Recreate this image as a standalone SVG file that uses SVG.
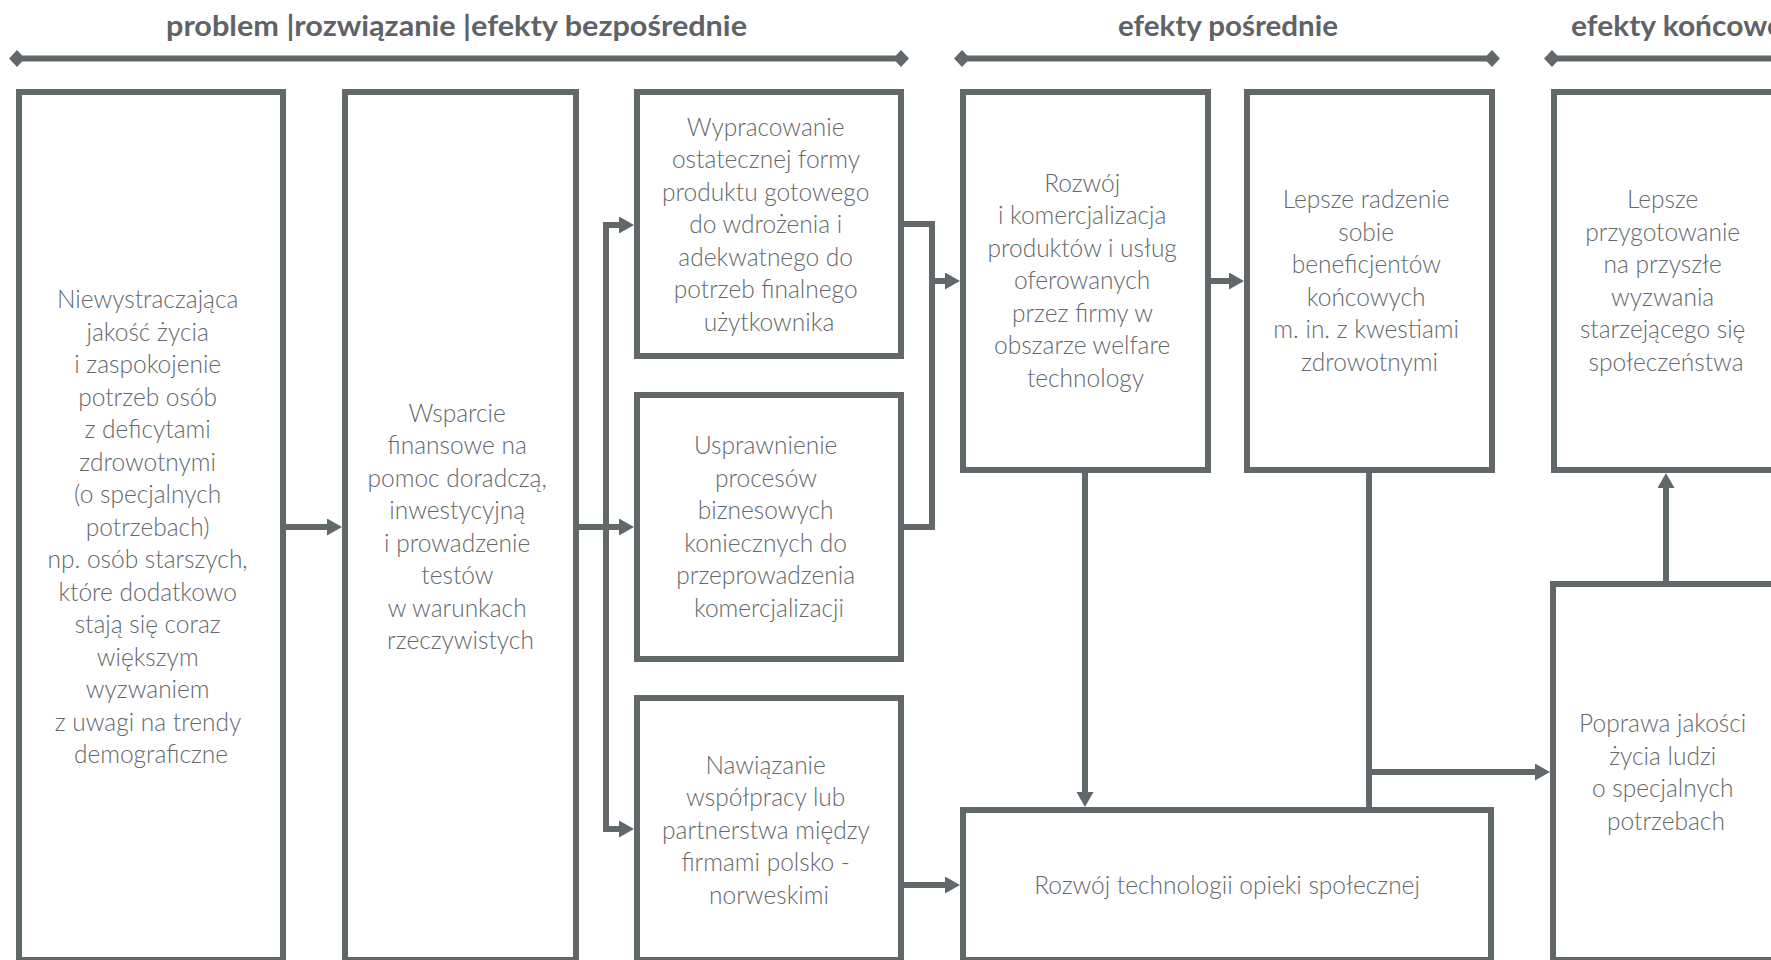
<svg xmlns="http://www.w3.org/2000/svg" width="1771" height="960" viewBox="0 0 1771 960">
  <defs>
    <style>
      .box { fill: #ffffff; stroke: #62676a; stroke-width: 6; }
      .wire { fill: none; stroke: #62676a; stroke-width: 6; }
      .bar { fill: none; stroke: #62676a; stroke-width: 6; }
      .lbl { font-family: Lato, "Liberation Sans", sans-serif; font-weight: 300; font-size: 24.5px; fill: #64686b; text-anchor: middle; }
      .hdr { font-family: Lato, "Liberation Sans", sans-serif; font-weight: 700; font-size: 28px; fill: #5f6367; }
    </style>
    <marker id="head" markerUnits="userSpaceOnUse" markerWidth="16" markerHeight="18" refX="0" refY="8.5" orient="auto">
      <path d="M0,0 L15,8.5 L0,17 Z" fill="#62676a"/>
    </marker>
    <marker id="diamond" markerUnits="userSpaceOnUse" markerWidth="17" markerHeight="18" refX="8" refY="8.5" orient="auto">
      <path d="M0,8.5 L8,0 L16,8.5 L8,17 Z" fill="#62676a"/>
    </marker>
  </defs>

  <rect width="1771" height="960" fill="#ffffff"/>

  <!-- column headers -->
  <g id="headers">
    <text class="hdr" x="166" y="36" textLength="581" lengthAdjust="spacingAndGlyphs">problem |rozwiązanie |efekty bezpośrednie</text>
    <text class="hdr" x="1118" y="36" textLength="220" lengthAdjust="spacingAndGlyphs">efekty pośrednie</text>
    <text class="hdr" x="1571" y="36" textLength="212" lengthAdjust="spacingAndGlyphs">efekty końcowe</text>
    <line class="bar" x1="17" y1="58.5" x2="901" y2="58.5" marker-start="url(#diamond)" marker-end="url(#diamond)"/>
    <line class="bar" x1="962" y1="58.5" x2="1492" y2="58.5" marker-start="url(#diamond)" marker-end="url(#diamond)"/>
    <line class="bar" x1="1552" y1="58.5" x2="1790" y2="58.5" marker-start="url(#diamond)"/>
  </g>

  <!-- connectors -->
  <g id="connectors">
    <line class="wire" x1="286" y1="527" x2="327" y2="527" marker-end="url(#head)"/>
    <polyline class="wire" points="579,527 606,527"/>
    <line class="wire" x1="606" y1="222" x2="606" y2="832"/>
    <line class="wire" x1="603" y1="225" x2="619" y2="225" marker-end="url(#head)"/>
    <line class="wire" x1="606" y1="527" x2="619" y2="527" marker-end="url(#head)"/>
    <line class="wire" x1="603" y1="829" x2="619" y2="829" marker-end="url(#head)"/>
    <polyline class="wire" points="904,224 932,224 932,527 904,527"/>
    <line class="wire" x1="932" y1="281" x2="945" y2="281" marker-end="url(#head)"/>
    <line class="wire" x1="1211" y1="281" x2="1229" y2="281" marker-end="url(#head)"/>
    <line class="wire" x1="1085" y1="473" x2="1085" y2="792" marker-end="url(#head)"/>
    <line class="wire" x1="1369" y1="473" x2="1369" y2="808"/>
    <line class="wire" x1="1369" y1="772" x2="1535" y2="772" marker-end="url(#head)"/>
    <line class="wire" x1="1666" y1="581" x2="1666" y2="488" marker-end="url(#head)"/>
    <line class="wire" x1="904" y1="885" x2="945" y2="885" marker-end="url(#head)"/>
  </g>

  <g id="problem">
    <rect class="box" x="19" y="92" width="264" height="868"/>
    <text class="lbl">
      <tspan x="151" y="308">Niewystraczająca</tspan>
      <tspan x="151" y="340.5">jakość życia</tspan>
      <tspan x="151" y="373">i zaspokojenie</tspan>
      <tspan x="151" y="405.5">potrzeb osób</tspan>
      <tspan x="151" y="438">z deficytami</tspan>
      <tspan x="151" y="470.5">zdrowotnymi</tspan>
      <tspan x="151" y="503">(o specjalnych</tspan>
      <tspan x="151" y="535.5">potrzebach)</tspan>
      <tspan x="151" y="568">np. osób starszych,</tspan>
      <tspan x="151" y="600.5">które dodatkowo</tspan>
      <tspan x="151" y="633">stają się coraz</tspan>
      <tspan x="151" y="665.5">większym</tspan>
      <tspan x="151" y="698">wyzwaniem</tspan>
      <tspan x="151" y="730.5">z uwagi na trendy</tspan>
      <tspan x="151" y="763">demograficzne</tspan>
    </text>
  </g>

  <g id="rozwiazanie">
    <rect class="box" x="345" y="92" width="231" height="868"/>
    <text class="lbl">
      <tspan x="460.5" y="421.5">Wsparcie</tspan>
      <tspan x="460.5" y="454">finansowe na</tspan>
      <tspan x="460.5" y="486.5">pomoc doradczą,</tspan>
      <tspan x="460.5" y="519">inwestycyjną</tspan>
      <tspan x="460.5" y="551.5">i prowadzenie</tspan>
      <tspan x="460.5" y="584">testów</tspan>
      <tspan x="460.5" y="616.5">w warunkach</tspan>
      <tspan x="460.5" y="649">rzeczywistych</tspan>
    </text>
  </g>

  <g id="wypracowanie">
    <rect class="box" x="637" y="92" width="264" height="264"/>
    <text class="lbl">
      <tspan x="769" y="135.5">Wypracowanie</tspan>
      <tspan x="769" y="168">ostatecznej formy</tspan>
      <tspan x="769" y="200.5">produktu gotowego</tspan>
      <tspan x="769" y="233">do wdrożenia i</tspan>
      <tspan x="769" y="265.5">adekwatnego do</tspan>
      <tspan x="769" y="298">potrzeb finalnego</tspan>
      <tspan x="769" y="330.5">użytkownika</tspan>
    </text>
  </g>

  <g id="usprawnienie">
    <rect class="box" x="637" y="395" width="264" height="264"/>
    <text class="lbl">
      <tspan x="769" y="454">Usprawnienie</tspan>
      <tspan x="769" y="486.5">procesów</tspan>
      <tspan x="769" y="519">biznesowych</tspan>
      <tspan x="769" y="551.5">koniecznych do</tspan>
      <tspan x="769" y="584">przeprowadzenia</tspan>
      <tspan x="769" y="616.5">komercjalizacji</tspan>
    </text>
  </g>

  <g id="nawiazanie">
    <rect class="box" x="637" y="698" width="264" height="262"/>
    <text class="lbl">
      <tspan x="769" y="773.5">Nawiązanie</tspan>
      <tspan x="769" y="806">współpracy lub</tspan>
      <tspan x="769" y="838.5">partnerstwa między</tspan>
      <tspan x="769" y="871">firmami polsko -</tspan>
      <tspan x="769" y="903.5">norweskimi</tspan>
    </text>
  </g>

  <g id="komercjalizacja">
    <rect class="box" x="963" y="92" width="245" height="378"/>
    <text class="lbl">
      <tspan x="1085.5" y="191.5">Rozwój</tspan>
      <tspan x="1085.5" y="224">i komercjalizacja</tspan>
      <tspan x="1085.5" y="256.5">produktów i usług</tspan>
      <tspan x="1085.5" y="289">oferowanych</tspan>
      <tspan x="1085.5" y="321.5">przez firmy w</tspan>
      <tspan x="1085.5" y="354">obszarze welfare</tspan>
      <tspan x="1085.5" y="386.5">technology</tspan>
    </text>
  </g>

  <g id="radzenie">
    <rect class="box" x="1247" y="92" width="245" height="378"/>
    <text class="lbl">
      <tspan x="1369.5" y="208">Lepsze radzenie</tspan>
      <tspan x="1369.5" y="240.5">sobie</tspan>
      <tspan x="1369.5" y="273">beneficjentów</tspan>
      <tspan x="1369.5" y="305.5">końcowych</tspan>
      <tspan x="1369.5" y="338">m. in. z kwestiami</tspan>
      <tspan x="1369.5" y="370.5">zdrowotnymi</tspan>
    </text>
  </g>

  <g id="przygotowanie">
    <rect class="box" x="1554" y="92" width="224" height="378"/>
    <text class="lbl">
      <tspan x="1666" y="208">Lepsze</tspan>
      <tspan x="1666" y="240.5">przygotowanie</tspan>
      <tspan x="1666" y="273">na przyszłe</tspan>
      <tspan x="1666" y="305.5">wyzwania</tspan>
      <tspan x="1666" y="338">starzejącego się</tspan>
      <tspan x="1666" y="370.5">społeczeństwa</tspan>
    </text>
  </g>

  <g id="technologia">
    <rect class="box" x="963" y="810" width="528" height="150"/>
    <text class="lbl" x="1227" y="894">Rozwój technologii opieki społecznej</text>
  </g>

  <g id="jakosc">
    <rect class="box" x="1553" y="584" width="225" height="376"/>
    <text class="lbl">
      <tspan x="1666" y="732">Poprawa jakości</tspan>
      <tspan x="1666" y="764.5">życia ludzi</tspan>
      <tspan x="1666" y="797">o specjalnych</tspan>
      <tspan x="1666" y="829.5">potrzebach</tspan>
    </text>
  </g>
</svg>
